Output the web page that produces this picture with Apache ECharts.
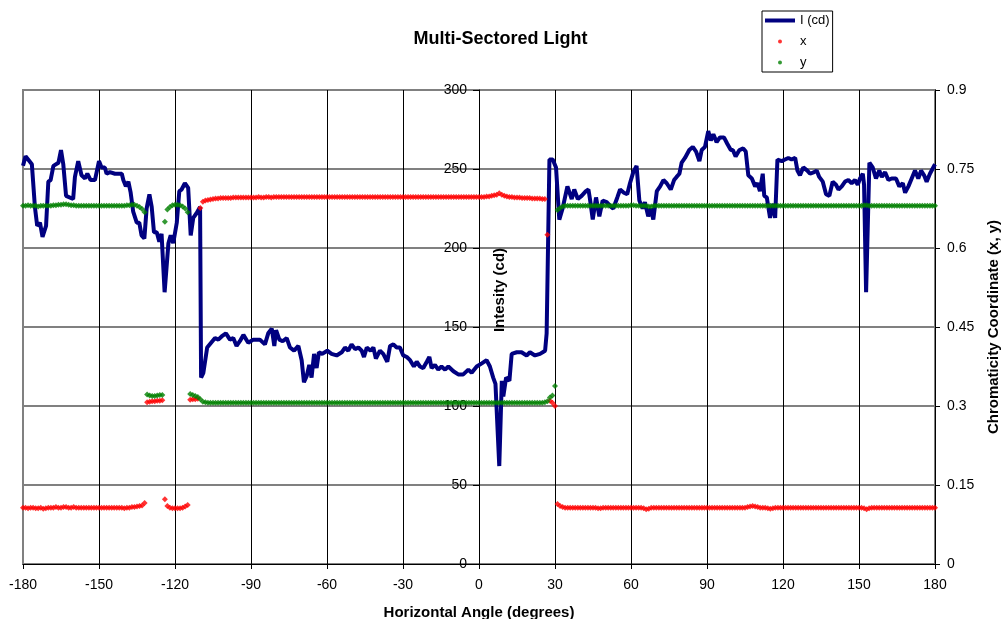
<!DOCTYPE html>
<html><head><meta charset="utf-8">
<script src="https://cdn.jsdelivr.net/npm/echarts@6/dist/echarts.min.js"></script>
<style>html,body{margin:0;padding:0;background:#fff}#c{width:1001px;height:619px}</style>
</head><body><div id="c"></div>
<script>
// ---------- DATA ----------
const intensityAngles = [-180,-179,-177.5,-176.5,-175.3,-174.4,-173.3,-172.3,-170.9,-170,-169.1,-168,-166,-165,-164.1,-163,-160.2,-159.5,-158.2,-156.9,-155.5,-154.6,-153.3,-151.6,-150,-149,-147.7,-147,-145.7,-143.7,-141,-140.4,-139.4,-138.4,-137.5,-136.5,-135.1,-134.1,-133.2,-132.1,-131.2,-130.1,-129.2,-128.3,-127.2,-126.2,-125.3,-124.1,-122.6,-121.7,-120.7,-119.3,-118.3,-117.4,-116.1,-114.8,-113.8,-112.8,-111.5,-110.1,-109.7,-108.8,-107.3,-106.7,-104.2,-102.9,-101.6,-99.9,-98.3,-97,-95.7,-94.4,-93,-91.1,-89.1,-86.5,-84.5,-83.2,-81.8,-80.8,-80.1,-78.8,-77.5,-75.9,-74.6,-73,-71.3,-70,-69.1,-68,-67,-66.1,-65.1,-64.1,-63.2,-61.9,-59.9,-58.2,-56.2,-54.2,-52.9,-51.6,-50.3,-48.9,-47.6,-46.3,-45.4,-44.3,-42.8,-41.7,-40.7,-39.1,-37.8,-36.2,-35.1,-33.8,-32.5,-31.2,-29.9,-28.5,-27.2,-25.7,-24.6,-23.3,-22,-20.6,-19.6,-18.7,-17.4,-16.1,-14.8,-13.4,-12.1,-10.1,-8.2,-6.2,-4.2,-2.9,-0.9,1.1,3,4.3,5.6,6.5,8,9,9.6,10.7,12,12.9,14.9,16.8,18.8,20.1,22.1,24.1,26.1,26.7,27.8,29.1,30.4,31.7,33,34.9,36.6,37.6,39,40.5,42.2,43.2,43.8,44.9,46.2,47.5,48.8,50.4,52.1,53,54.6,55.7,57.2,58.5,59.6,60.9,62.2,63.3,64.6,65.5,66.8,67.8,68.8,70.2,71.5,72.8,74.1,75.7,77,78,79.1,80,81.3,83,84.4,85.7,87,87.9,89.2,90.5,91.5,92.5,93.8,95.1,96.7,98,99.4,100.2,101.3,102.8,104.3,105.3,106.3,107.7,109,109.9,110.9,112,112.6,113.6,114.9,115.9,116.9,117.8,119.5,120.8,122.1,123.4,124.8,125.7,126.7,128,129.6,130.7,132.3,133.3,134.3,135.7,137,138.3,139.6,140.9,141.9,143.2,144.5,145.8,147.1,148.4,149.5,150.4,151.5,152,152.8,154.1,155.4,156.7,158,159,160.3,161.6,162.9,164.6,165.9,167.3,168.2,169.5,170.8,172.1,173.4,174.5,175.7,176.7,178,180];
const intensityValues = [252,258,255,253,226,214,216,207,214,242,243,252,254,262,253,233,231,245,255,246,244,247,243,243,255,251,251,247,248,247,247,243,239,242,235,223,216,216,208,206,225,234,226,210,210,204,209,172,203,208,203,216,236,237,241,238,208,219,222,226,118,121,137,138,143,142,144,146,142,143,138,141,145,140,142,142,139,146,149,138,148,142,141,143,137,135,138,129,115,119,126,118,133,124,134,133,135,133,132,134,137,135,139,136,137,135,131,137,135,137,130,135,133,128,138,139,137,137,132,131,129,125,128,125,124,128,131,124,126,123,125,123,125,122,120,120,123,121,125,127,129,125,118,114,62,116,106,118,116,133,134,134,132,134,132,133,135,146,256,256,251,218,225,239,231,237,231,233,236,237,231,218,232,220,230,229,226,225,232,237,235,234,241,248,252,230,225,229,220,225,218,236,239,243,241,237,243,245,247,254,257,262,264,261,255,262,264,274,268,272,267,270,270,266,262,262,258,262,263,261,246,244,239,241,236,247,233,232,219,228,219,256,255,256,257,256,257,249,246,251,249,247,248,249,245,242,234,233,242,240,237,239,242,243,241,243,240,244,247,240,172,254,251,244,249,245,248,243,244,244,239,241,235,239,244,249,244,249,246,242,247,253];

// chromaticity samples, one per degree from -180 to 180
const chromaStartAngle = -180;
const chromaX = [
// -180..-171
0.107,0.107,0.106,0.107,0.107,0.106,0.106,0.107,0.105,0.106,
// -170..-161
0.107,0.107,0.107,0.108,0.107,0.107,0.108,0.108,0.107,0.107,
// -160..-151
0.108,0.107,0.107,0.107,0.107,0.107,0.107,0.107,0.107,0.107,
// -150..-141
0.107,0.107,0.107,0.107,0.107,0.107,0.107,0.107,0.107,0.107,
// -140..-133
0.106,0.107,0.107,0.108,0.108,0.109,0.110,0.111,
// -132
0.116,
// -131..-125
0.307,0.308,0.309,0.309,0.310,0.310,0.311,
// -124
0.123,
// -123..-115
0.110,0.107,0.106,0.106,0.106,0.106,0.107,0.109,0.112,
// -114..-111
0.312,0.313,0.313,0.314,
// -110
0.676,
// -109..-100
0.688,0.690,0.691,0.692,0.693,0.694,0.694,0.695,0.695,0.695,
// -99..-90
0.695,0.695,0.696,0.696,0.696,0.696,0.696,0.696,0.696,0.696,
// -89..-80
0.696,0.696,0.697,0.696,0.696,0.697,0.697,0.696,0.697,0.697,
// -79..-70
0.697,0.697,0.697,0.697,0.697,0.697,0.697,0.697,0.697,0.697,
// -69..-60
0.697,0.697,0.697,0.697,0.697,0.697,0.697,0.697,0.697,0.697,
// -59..-50
0.697,0.697,0.697,0.697,0.697,0.697,0.697,0.697,0.697,0.697,
// -49..-40
0.697,0.697,0.697,0.697,0.697,0.697,0.697,0.697,0.697,0.697,
// -39..-30
0.697,0.697,0.697,0.697,0.697,0.697,0.697,0.697,0.697,0.697,
// -29..-20
0.697,0.697,0.697,0.697,0.697,0.697,0.697,0.697,0.697,0.697,
// -19..-10
0.697,0.697,0.697,0.697,0.697,0.697,0.697,0.697,0.697,0.697,
// -9..0
0.697,0.697,0.697,0.697,0.697,0.697,0.697,0.697,0.697,0.697,
// 1..10
0.697,0.697,0.698,0.698,0.699,0.700,0.701,0.704,0.701,0.699,
// 11..20
0.698,0.697,0.697,0.696,0.696,0.696,0.695,0.695,0.695,0.695,
// 21..26
0.694,0.694,0.694,0.694,0.693,0.693,
// 27
0.625,
// 28..30
0.310,0.306,0.300,
// 31..33
0.114,0.110,0.108,
// 34..43
0.107,0.107,0.107,0.107,0.107,0.107,0.107,0.107,0.107,0.107,
// 44..53
0.107,0.107,0.107,0.106,0.106,0.107,0.107,0.107,0.107,0.107,
// 54..63
0.107,0.107,0.107,0.107,0.107,0.107,0.107,0.107,0.107,0.107,
// 64..73
0.107,0.106,0.104,0.105,0.107,0.107,0.107,0.107,0.107,0.107,
// 74..83
0.107,0.107,0.107,0.107,0.107,0.107,0.107,0.107,0.107,0.107,
// 84..93
0.107,0.107,0.107,0.107,0.107,0.107,0.107,0.107,0.107,0.107,
// 94..103
0.107,0.107,0.107,0.107,0.107,0.107,0.107,0.107,0.107,0.107,
// 104..113
0.107,0.107,0.108,0.109,0.110,0.109,0.108,0.107,0.107,0.107,
// 114..123
0.106,0.105,0.106,0.107,0.107,0.107,0.107,0.107,0.107,0.107,
// 124..133
0.107,0.107,0.107,0.107,0.107,0.107,0.107,0.107,0.107,0.107,
// 134..143
0.107,0.107,0.107,0.107,0.107,0.107,0.107,0.107,0.107,0.107,
// 144..153
0.107,0.107,0.107,0.107,0.107,0.107,0.107,0.107,0.106,0.104,
// 154..163
0.106,0.107,0.107,0.107,0.107,0.107,0.107,0.107,0.107,0.107,
// 164..173
0.107,0.107,0.107,0.107,0.107,0.107,0.107,0.107,0.107,0.107,
// 174..180
0.107,0.107,0.107,0.107,0.107,0.107,0.107
];
const chromaY = [
// -180..-171
0.680,0.680,0.681,0.680,0.680,0.680,0.679,0.680,0.680,0.680,
// -170..-161
0.680,0.680,0.681,0.681,0.682,0.682,0.683,0.683,0.682,0.681,
// -160..-151
0.681,0.680,0.680,0.680,0.680,0.680,0.680,0.680,0.680,0.680,
// -150..-141
0.680,0.680,0.680,0.680,0.680,0.680,0.680,0.680,0.680,0.680,
// -140..-133
0.680,0.681,0.681,0.682,0.682,0.680,0.678,0.674,
// -132
0.668,
// -131..-125
0.322,0.320,0.319,0.319,0.320,0.321,0.321,
// -124
0.650,
// -123..-115
0.673,0.678,0.681,0.682,0.682,0.681,0.679,0.675,0.668,
// -114..-111
0.323,0.321,0.319,0.317,
// -110
0.313,
// -109..-100
0.308,0.307,0.306,0.306,0.306,0.306,0.306,0.306,0.306,0.306,
// -99..-90
0.306,0.306,0.306,0.306,0.306,0.306,0.306,0.306,0.306,0.306,
// -89..-80
0.306,0.306,0.306,0.306,0.306,0.306,0.306,0.306,0.306,0.306,
// -79..-70
0.306,0.306,0.306,0.306,0.306,0.306,0.306,0.306,0.306,0.306,
// -69..-60
0.306,0.306,0.306,0.306,0.306,0.306,0.306,0.306,0.306,0.306,
// -59..-50
0.306,0.306,0.306,0.306,0.306,0.306,0.306,0.306,0.306,0.306,
// -49..-40
0.306,0.306,0.306,0.306,0.306,0.306,0.306,0.306,0.306,0.306,
// -39..-30
0.306,0.306,0.306,0.306,0.306,0.306,0.306,0.306,0.306,0.306,
// -29..-20
0.306,0.306,0.306,0.306,0.306,0.306,0.306,0.306,0.306,0.306,
// -19..-10
0.306,0.306,0.306,0.306,0.306,0.306,0.306,0.306,0.306,0.306,
// -9..0
0.306,0.306,0.306,0.306,0.306,0.306,0.306,0.306,0.306,0.306,
// 1..10
0.306,0.306,0.306,0.306,0.306,0.306,0.306,0.306,0.306,0.306,
// 11..20
0.306,0.306,0.306,0.306,0.306,0.306,0.306,0.306,0.306,0.306,
// 21..26
0.306,0.306,0.306,0.306,0.306,0.307,
// 27
0.309,
// 28..30
0.316,0.320,0.338,
// 31..33
0.672,0.676,0.679,
// 34..43
0.680,0.680,0.680,0.680,0.680,0.680,0.680,0.680,0.680,0.680,
// 44..53
0.680,0.680,0.680,0.680,0.680,0.680,0.680,0.680,0.680,0.680,
// 54..63
0.680,0.680,0.680,0.680,0.680,0.680,0.681,0.681,0.680,0.680,
// 64..73
0.680,0.680,0.680,0.679,0.679,0.680,0.680,0.680,0.680,0.680,
// 74..83
0.680,0.680,0.680,0.680,0.680,0.680,0.680,0.680,0.680,0.680,
// 84..93
0.680,0.680,0.680,0.680,0.680,0.680,0.680,0.680,0.680,0.680,
// 94..103
0.680,0.680,0.680,0.680,0.680,0.680,0.680,0.680,0.680,0.680,
// 104..113
0.680,0.680,0.680,0.680,0.680,0.680,0.680,0.680,0.680,0.680,
// 114..123
0.680,0.680,0.680,0.680,0.680,0.680,0.680,0.680,0.680,0.680,
// 124..133
0.680,0.680,0.680,0.680,0.680,0.680,0.680,0.680,0.680,0.680,
// 134..143
0.680,0.680,0.680,0.680,0.680,0.680,0.680,0.680,0.680,0.680,
// 144..153
0.680,0.680,0.680,0.680,0.680,0.680,0.680,0.680,0.681,0.681,
// 154..163
0.680,0.680,0.680,0.680,0.680,0.680,0.680,0.680,0.680,0.680,
// 164..173
0.680,0.680,0.680,0.680,0.680,0.680,0.680,0.680,0.680,0.680,
// 174..180
0.680,0.680,0.680,0.680,0.680,0.680,0.680
];

const titleText = 'Multi-Sectored Light';
const xAxisTitle = 'Horizontal Angle (degrees)';
const leftAxisTitle = 'Intesity (cd)';
const rightAxisTitle = 'Chromaticity Coordinate (x, y)';
const seriesNames = ['I (cd)', 'x', 'y'];

if (intensityAngles.length !== intensityValues.length) throw new Error('intensity length mismatch ' + intensityAngles.length + ' vs ' + intensityValues.length);
if (chromaX.length !== 361) throw new Error('chromaX length ' + chromaX.length);
if (chromaY.length !== 361) throw new Error('chromaY length ' + chromaY.length);

// ---------- CHART ----------
const FONT = '"Liberation Sans", Arial, sans-serif';
const GRID = {left: 23, right: 66, top: 90, bottom: 55};
const W = 1001;
const plotW = W - GRID.left - GRID.right;
// left value axis sits at angle 0 of the horizontal axis
const zeroOffset = -plotW * (0 - (-180)) / 360;

const lineData = intensityAngles.map((a, i) => [a, intensityValues[i]]);
const xData = chromaX.map((v, i) => [chromaStartAngle + i, v]);
const yData = chromaY.map((v, i) => [chromaStartAngle + i, v]);

const chart = echarts.init(document.getElementById('c'), null, {renderer: 'canvas'});
chart.setOption({
  animation: false,
  backgroundColor: '#ffffff',
  textStyle: {fontFamily: FONT, color: '#000'},
  title: {
    text: titleText, left: 'center', top: 25,
    textStyle: {fontFamily: FONT, fontSize: 18, fontWeight: 'bold', color: '#000'}
  },
  legend: {
    data: [{name: seriesNames[0], icon: 'rect'}, {name: seriesNames[1], icon: 'circle'}, {name: seriesNames[2], icon: 'circle'}],
    orient: 'vertical', left: 762, top: 11,
    padding: [3, 3, 3, 3], itemGap: 8, itemWidth: 30, itemHeight: 4,
    borderColor: '#000', borderWidth: 1, backgroundColor: '#fff',
    textStyle: {fontFamily: FONT, fontSize: 13, color: '#000'}
  },
  grid: Object.assign({outerBoundsMode: 'none', containLabel: false, show: true, borderColor: '#808080', borderWidth: 2, backgroundColor: 'transparent'}, GRID),
  xAxis: {
    type: 'value', min: -180, max: 180, interval: 30,
    name: xAxisTitle, nameLocation: 'middle', nameGap: 41,
    nameTextStyle: {fontFamily: FONT, fontSize: 15, fontWeight: 'bold', color: '#000'},
    axisLine: {show: true, onZero: false, lineStyle: {color: '#000', width: 1}},
    axisTick: {show: true, length: 5, lineStyle: {color: '#000'}},
    axisLabel: {margin: 14, fontSize: 14, color: '#000', fontFamily: FONT},
    splitLine: {show: true, showMinLine: false, lineStyle: {color: '#000', width: 1}}
  },
  yAxis: [{
    type: 'value', min: 0, max: 300, interval: 50, position: 'left', offset: zeroOffset,
    axisLine: {show: true, onZero: false, lineStyle: {color: '#000', width: 1}},
    axisTick: {show: true, length: 6, lineStyle: {color: '#000'}},
    axisLabel: {margin: 12, fontSize: 14, color: '#000', fontFamily: FONT},
    splitLine: {show: true, lineStyle: {color: '#808080', width: 2}}
  }, {
    type: 'value', min: 0, max: 0.9, interval: 0.15, position: 'right',
    name: rightAxisTitle, nameLocation: 'middle', nameGap: 51, nameRotate: 90,
    nameTextStyle: {fontFamily: FONT, fontSize: 15, fontWeight: 'bold', color: '#000'},
    axisLine: {show: true, onZero: false, lineStyle: {color: '#000', width: 1}},
    axisTick: {show: true, length: 5, lineStyle: {color: '#000'}},
    axisLabel: {margin: 12, fontSize: 14, color: '#000', fontFamily: FONT,
      formatter: v => String(+v.toFixed(2))},
    splitLine: {show: false}
  }],
  graphic: [{
    type: 'text', x: 500, y: 290, rotation: Math.PI / 2,
    style: {text: leftAxisTitle, font: 'bold 15px ' + FONT, fill: '#000', align: 'center', verticalAlign: 'middle'},
    z: 100
  }],
  series: [{
    name: seriesNames[0], type: 'line', yAxisIndex: 0, data: lineData,
    symbol: 'none', showSymbol: false,
    lineStyle: {color: '#000080', width: 4}, itemStyle: {color: '#000080'}, z: 2
  }, {
    name: seriesNames[1], type: 'scatter', yAxisIndex: 1, data: xData,
    symbol: 'diamond', symbolSize: 6, itemStyle: {color: '#ff0000'}, z: 3
  }, {
    name: seriesNames[2], type: 'scatter', yAxisIndex: 1, data: yData,
    symbol: 'diamond', symbolSize: 6, itemStyle: {color: '#008000'}, z: 3
  }]
});
</script>
</body></html>
